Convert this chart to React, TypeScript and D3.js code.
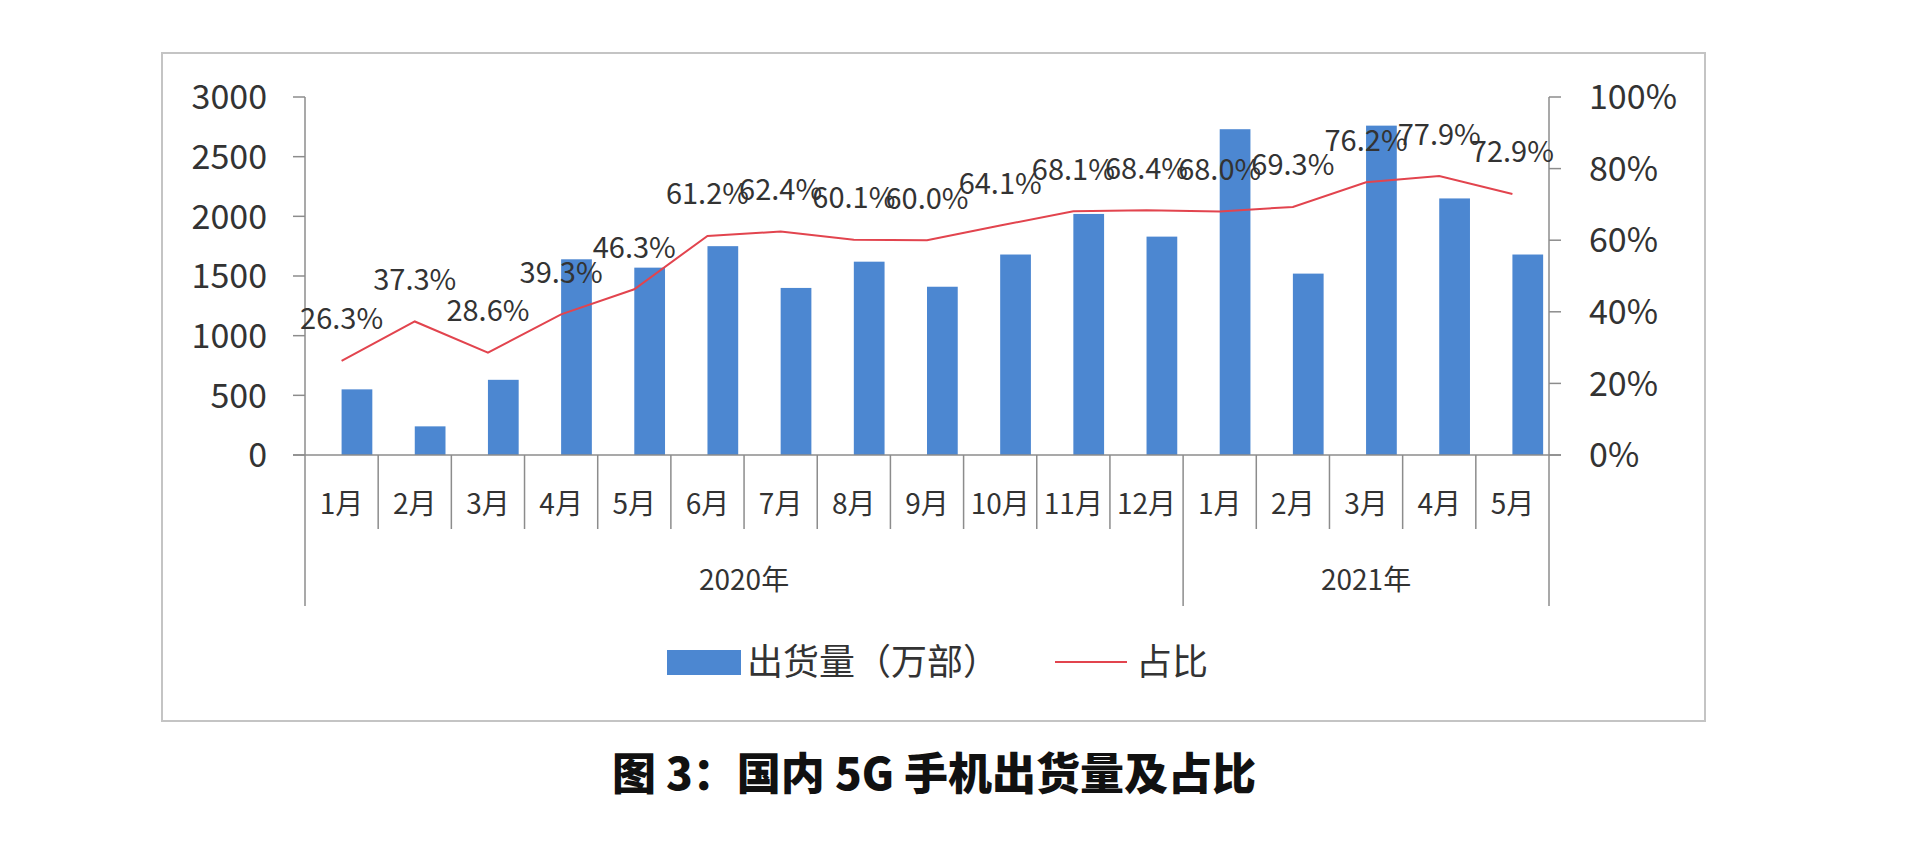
import React from "react";
import * as d3 from "d3";

const months = ["1月","2月","3月","4月","5月","6月","7月","8月","9月","10月","11月","12月","1月","2月","3月","4月","5月"];
const shipments = [550,240,630,1640,1570,1750,1400,1620,1410,1680,2020,1830,2730,1520,2760,2150,1680];
const shares = [26.3,37.3,28.6,39.3,46.3,61.2,62.4,60.1,60.0,64.1,68.1,68.4,68.0,69.3,76.2,77.9,72.9];
const yearLabels = ["2020年","2021年"];
const yearCounts = [12,5];
const leftTicks = [0,500,1000,1500,2000,2500,3000];
const rightTicks = [0,20,40,60,80,100];
const seriesNames = ["出货量（万部）","占比"];
const title = "图 3：国内 5G 手机出货量及占比";

const FONT = "'Noto Sans CJK SC', 'Noto Sans', sans-serif";
const BAR = "#4c87d1";
const LINE = "#e2444e";
const AXIS = "#8c8c8c";
const TEXT = "#333333";

export default function App() {
  const W = 1920, H = 868;
  const x0 = 305, x1 = 1549, yTop = 97, yBase = 455;
  const keys = months.map((_, i) => String(i));
  // category centres
  const x = d3.scalePoint<string>().domain(keys).range([x0, x1]).padding(0.5);
  const step = x.step();
  const barW = step * 0.42;
  const yL = d3.scaleLinear().domain([0, 3000]).range([yBase, yTop]);
  const yR = d3.scaleLinear().domain([0, 100]).range([yBase, yTop]);
  const cx = (i: number) => x(String(i)) as number;
  const line = d3.line<number>().x((_, i) => cx(i)).y(d => yR(d));

  const yearBounds: number[] = [0];
  yearCounts.forEach(c => yearBounds.push(yearBounds[yearBounds.length - 1] + c));

  return (
    <svg width={W} height={H} style={{ position: "absolute", left: 0, top: 0, background: "#fff" }} fontFamily={FONT}>
      <rect x={0} y={0} width={W} height={H} fill="#fff" />
      <rect x={162} y={53} width={1543} height={668} fill="none" stroke="#c4c4c4" strokeWidth={2} />

      {/* bars (drawn from the category centre to the right, as in the source) */}
      {shipments.map((v, i) => (
        <rect key={"b" + i} x={cx(i)} y={yL(v)} width={barW} height={yBase - yL(v)} fill={BAR} />
      ))}

      {/* left axis */}
      <line x1={x0} x2={x0} y1={yTop} y2={yBase} stroke={AXIS} strokeWidth={1.5} />
      {leftTicks.map(t => (
        <g key={"lt" + t}>
          <line x1={x0 - 12} x2={x0} y1={yL(t)} y2={yL(t)} stroke={AXIS} strokeWidth={1.5} />
          <text x={267} y={yL(t)} dy="0.36em" textAnchor="end" fontSize={34} fill={TEXT}>{t}</text>
        </g>
      ))}

      {/* right axis */}
      <line x1={x1} x2={x1} y1={yTop} y2={yBase} stroke={AXIS} strokeWidth={1.5} />
      {rightTicks.map(t => (
        <g key={"rt" + t}>
          <line x1={x1} x2={x1 + 12} y1={yR(t)} y2={yR(t)} stroke={AXIS} strokeWidth={1.5} />
          <text x={1589} y={yR(t)} dy="0.36em" textAnchor="start" fontSize={34} fill={TEXT}>{t}%</text>
        </g>
      ))}

      {/* category axis */}
      <line x1={x0 - 12} x2={x1 + 12} y1={yBase} y2={yBase} stroke={AXIS} strokeWidth={1.5} />
      {months.map((m, i) => {
        const bx = x0 + i * step;
        const isYear = yearBounds.includes(i);
        return (
          <g key={"c" + i}>
            <line x1={bx} x2={bx} y1={yBase} y2={isYear ? 606 : 529} stroke={AXIS} strokeWidth={1.5} />
            <text x={cx(i)} y={504} dy="0.36em" textAnchor="middle" fontSize={28} fill={TEXT}>{m}</text>
          </g>
        );
      })}
      <line x1={x1} x2={x1} y1={yBase} y2={606} stroke={AXIS} strokeWidth={1.5} />
      {yearLabels.map((yl, j) => {
        const a = x0 + yearBounds[j] * step;
        const b = x0 + yearBounds[j + 1] * step;
        return (
          <text key={"y" + j} x={(a + b) / 2} y={580} dy="0.36em" textAnchor="middle" fontSize={28} fill={TEXT}>{yl}</text>
        );
      })}

      {/* share line */}
      <path d={line(shares) || ""} fill="none" stroke={LINE} strokeWidth={2} />
      {shares.map((s, i) => (
        <text key={"l" + i} x={cx(i)} y={yR(s) - 42} dy="0.36em" textAnchor="middle" fontSize={29} fill={TEXT}>{s.toFixed(1)}%</text>
      ))}

      {/* legend */}
      <rect x={667} y={650} width={74} height={25} fill={BAR} />
      <text x={747} y={662} dy="0.36em" fontSize={36} fill={TEXT}>{seriesNames[0]}</text>
      <line x1={1055} x2={1127} y1={662} y2={662} stroke={LINE} strokeWidth={2} />
      <text x={1136} y={662} dy="0.36em" fontSize={36} fill={TEXT}>{seriesNames[1]}</text>

      {/* title */}
      <text x={934} y={774} dy="0.36em" textAnchor="middle" fontSize={44} fontWeight={900} fill="#111">{title}</text>
    </svg>
  );
}
